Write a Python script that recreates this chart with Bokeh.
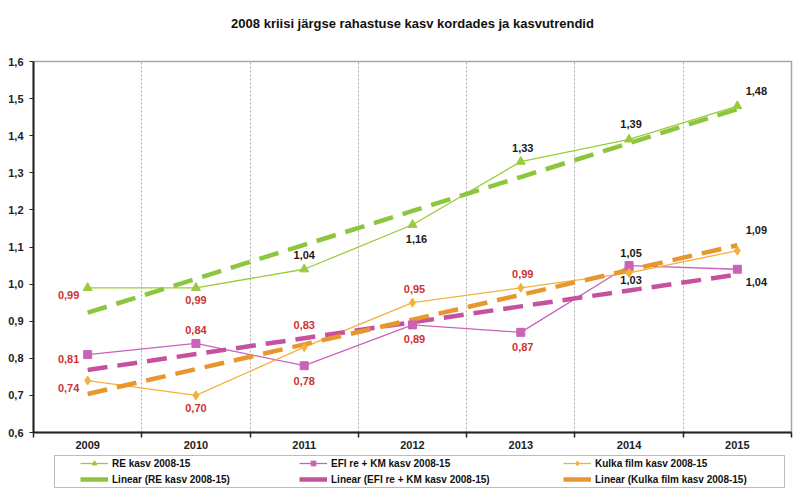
import numpy as np
from bokeh.plotting import figure
from bokeh.layouts import column
from bokeh.models import (FixedTicker, CustomJSTickFormatter, Legend, LegendItem,
                          ColumnDataSource, Range1d, Title, BoxAnnotation)
from bokeh.core.properties import value
from bokeh.embed import file_html
from bokeh.resources import INLINE

# ---------------- data ----------------
years = ["2009", "2010", "2011", "2012", "2013", "2014", "2015"]
re_kasv = [0.99, 0.99, 1.04, 1.16, 1.33, 1.39, 1.48]
efi_kasv = [0.81, 0.84, 0.78, 0.89, 0.87, 1.05, 1.04]
kulka_kasv = [0.74, 0.70, 0.83, 0.95, 0.99, 1.03, 1.09]
series_names = ["RE kasv 2008-15", "EFI re + KM kasv 2008-15", "Kulka film kasv 2008-15"]
y_ticks = [0.6, 0.7, 0.8, 0.9, 1.0, 1.1, 1.2, 1.3, 1.4, 1.5, 1.6]
title_text = "2008 kriisi järgse rahastuse kasv kordades ja kasvutrendid"

# ---------------- styles ----------------
FONT = value("Liberation Sans")
line_colors = ["#9BCB3C", "#C963B8", "#F2B13C"]
trend_colors = ["#8CC63F", "#C6519F", "#E8962E"]
markers = ["triangle", "square", "diamond"]
marker_sizes = [9, 8, 9]
legend_x = [47, 266, 530]          # legend column offsets (px inside strip)
# label offsets (screen px) per series / year
label_dx = [[-19, 0, 0, 4, 2, 2, 19],
            [-19, 0, 0, 2, 2, 2, 19],
            [-19, 0, 0, 2, 2, 2, 19]]
label_dy = [[7, 12, -14, 14, -14, -15, -15],
            [4, -13, 15, 14, 15, -13, 13],
            [7, 13, -22, -14, -14, 7, -21]]

idx = np.arange(len(years))
xs = idx + 0.5

p = figure(frame_width=758, frame_height=371,
           x_range=Range1d(0, len(years)), y_range=Range1d(0.6, 1.6),
           output_backend="svg", toolbar_location=None,
           min_border_left=33, min_border_right=9, min_border_top=61, min_border_bottom=22)
p.background_fill_color = "white"
p.border_fill_color = "white"
p.outline_line_color = "#A6A6A6"
p.outline_line_width = 1.5

# spacer title (nearest the frame) then the real title above it
p.add_layout(Title(text=" ", text_font_size="12px"), "above")
p.add_layout(Title(text=title_text, align="center", text_font="Liberation Sans",
                   text_font_size="13px", text_font_style="bold",
                   text_color="#111111"), "above")

# y axis
p.yaxis.ticker = FixedTicker(ticks=y_ticks)
p.yaxis.formatter = CustomJSTickFormatter(code="return tick.toFixed(1).replace('.', ',');")
p.yaxis.major_tick_in = 0
p.yaxis.major_tick_out = 4
p.yaxis.minor_tick_line_color = None
p.yaxis.axis_line_color = "#222222"
p.yaxis.axis_line_width = 2
p.yaxis.major_tick_line_color = "#222222"
p.yaxis.major_label_standoff = 6

# x axis
p.xaxis.ticker = FixedTicker(ticks=list(xs), minor_ticks=list(range(len(years) + 1)))
p.xaxis.major_label_overrides = {float(x): y for x, y in zip(xs, years)}
p.xaxis.major_tick_in = 0
p.xaxis.major_tick_out = 0
p.xaxis.minor_tick_in = 0
p.xaxis.minor_tick_out = 5
p.xaxis.minor_tick_line_color = "#222222"
p.xaxis.minor_tick_line_width = 1.5
p.xaxis.axis_line_color = "#222222"
p.xaxis.axis_line_width = 2
p.xaxis.major_label_standoff = 3

for ax in (p.xaxis, p.yaxis):
    ax.major_label_text_font = "Liberation Sans"
    ax.major_label_text_font_size = "11px"
    ax.major_label_text_font_style = "bold"
    ax.major_label_text_color = "#222222"

p.xgrid.ticker = FixedTicker(ticks=list(range(1, len(years))))
p.xgrid.grid_line_color = "#A8A8A8"
p.xgrid.grid_line_dash = "2 2"
p.ygrid.visible = False

all_series = [re_kasv, efi_kasv, kulka_kasv]
data_src, trend_src = [], []
for k, vals in enumerate(all_series):
    src = ColumnDataSource(dict(x=xs, y=vals))
    data_src.append(src)
    p.line("x", "y", source=src, line_color=line_colors[k], line_width=1.3)
for k, vals in enumerate(all_series):
    slope, icpt = np.polyfit(idx, vals, 1)
    tsrc = ColumnDataSource(dict(x=xs, y=slope * idx + icpt))
    trend_src.append(tsrc)
    p.line("x", "y", source=tsrc, line_color=trend_colors[k], line_width=4.5, line_dash="20 10")
for k, vals in enumerate(all_series):
    p.scatter("x", "y", source=data_src[k], marker=markers[k], size=marker_sizes[k],
              fill_color=line_colors[k], line_color=line_colors[k])
for k, vals in enumerate(all_series):
    texts = [f"{v:.2f}".replace(".", ",") for v in vals]
    tcol = ["#CC3333" if v < 1.0 else "#1A1A1A" for v in vals]
    lsrc = ColumnDataSource(dict(x=xs, y=vals, t=texts, c=tcol,
                                 dx=label_dx[k], dy=label_dy[k]))
    p.text("x", "y", text="t", source=lsrc, x_offset="dx", y_offset="dy",
           text_color="c", text_align="center", text_baseline="middle",
           text_font=FONT, text_font_size="11px", text_font_style="bold")

# ---------------- legend strip ----------------
# ranges chosen so the series data stays out of view; only legend glyphs show
lf = figure(frame_width=758, frame_height=34, x_range=Range1d(100, 858), y_range=Range1d(100, 134),
            output_backend="svg", toolbar_location=None,
            min_border_left=33, min_border_right=9, min_border_top=0, min_border_bottom=0)
lf.axis.visible = False
lf.grid.visible = False
lf.outline_line_color = None
lf.border_fill_color = "white"
lf.add_layout(BoxAnnotation(left=121, right=851, bottom=101, top=133,
                            fill_alpha=0, line_color="#222222", line_width=1))

for k in range(3):
    lr = lf.line("x", "y", source=data_src[k], line_color=line_colors[k], line_width=1.3)
    mr = lf.scatter("x", "y", source=data_src[k], marker=markers[k], size=6,
                    fill_color=line_colors[k], line_color=line_colors[k])
    tr = lf.line("x", "y", source=trend_src[k], line_color=trend_colors[k], line_width=4.5)
    leg = Legend(items=[LegendItem(label=series_names[k], renderers=[lr, mr]),
                        LegendItem(label=f"Linear ({series_names[k]})", renderers=[tr])],
                 orientation="vertical", location=(legend_x[k], 3),
                 label_text_font="Liberation Sans", label_text_font_size="10px",
                 label_text_font_style="bold", label_text_color="#111111",
                 glyph_width=28, glyph_height=12, label_height=12, label_standoff=4,
                 spacing=4, padding=0, margin=0,
                 border_line_color=None, background_fill_alpha=0)
    lf.add_layout(leg, "center")

open("out.html", "w").write(file_html(column(p, lf), INLINE))
